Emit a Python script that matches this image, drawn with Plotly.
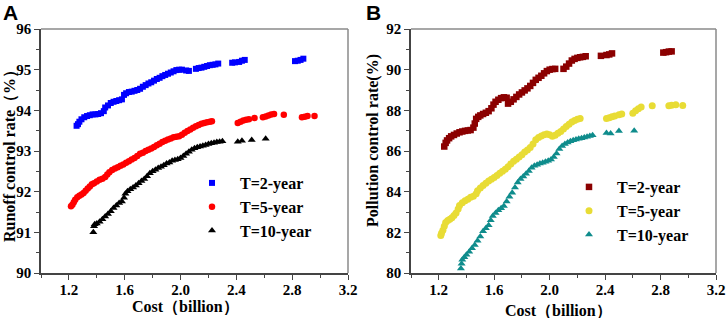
import plotly.graph_objects as go

# ---------------- Panel A: runoff control rate ----------------
a2_x = [1.255,1.265,1.275,1.29,1.31,1.33,1.35,1.37,1.39,1.41,1.43,1.45,1.46,1.48,1.50,1.52,1.54,1.56,1.58,1.595,
        1.61,1.63,1.65,1.67,1.69,1.71,1.73,1.75,1.77,1.79,1.81,1.83,1.85,1.87,1.89,1.91,1.93,1.95,1.97,1.99,
        2.01,2.04,2.06,2.11,2.13,2.15,2.17,2.19,2.21,2.23,2.25,2.27,2.37,2.39,2.42,2.44,2.46,2.82,2.84,2.86,2.88]
a2_y = [93.62,93.66,93.72,93.78,93.83,93.86,93.88,93.90,93.90,93.91,93.93,93.98,94.07,94.12,94.18,94.21,94.23,94.25,94.27,94.38,
        94.42,94.45,94.46,94.48,94.50,94.53,94.58,94.62,94.66,94.69,94.73,94.77,94.80,94.84,94.87,94.90,94.93,94.96,94.99,95.00,
        95.00,94.98,94.97,95.02,95.04,95.05,95.07,95.09,95.11,95.12,95.13,95.15,95.17,95.18,95.19,95.22,95.24,95.21,95.22,95.24,95.27]

a5_x = [1.215,1.225,1.235,1.245,1.26,1.275,1.29,1.305,1.32,1.335,1.35,1.365,1.38,1.40,1.42,1.44,1.46,1.475,1.49,1.51,
        1.53,1.55,1.57,1.59,1.61,1.63,1.65,1.67,1.69,1.71,1.73,1.75,1.77,1.79,1.81,1.83,1.85,1.87,1.89,1.91,
        1.93,1.95,1.97,1.99,2.01,2.03,2.05,2.07,2.09,2.11,2.13,2.15,2.17,2.19,2.21,2.225,
        2.41,2.43,2.45,2.47,2.49,2.53,2.59,2.61,2.63,2.65,2.67,2.74,2.87,2.89,2.91,2.96]
a5_y = [91.64,91.68,91.74,91.80,91.86,91.90,91.93,91.97,92.02,92.08,92.13,92.18,92.21,92.25,92.29,92.32,92.36,92.42,92.48,92.53,
        92.57,92.60,92.64,92.67,92.71,92.75,92.79,92.83,92.88,92.93,92.96,93.00,93.03,93.06,93.10,93.14,93.18,93.22,93.25,93.28,
        93.31,93.34,93.35,93.36,93.40,93.45,93.49,93.53,93.57,93.61,93.64,93.67,93.69,93.71,93.72,93.73,
        93.69,93.72,93.75,93.77,93.78,93.81,93.83,93.85,93.87,93.90,93.91,93.89,93.83,93.84,93.86,93.86]

a10_x = [1.375,1.38,1.385,1.40,1.42,1.44,1.46,1.48,1.50,1.52,1.54,1.56,1.58,1.595,1.605,1.62,1.64,1.66,1.68,1.70,
         1.72,1.74,1.76,1.78,1.80,1.82,1.84,1.86,1.88,1.90,1.92,1.94,1.96,1.98,2.00,2.02,2.04,2.06,2.08,2.10,
         2.12,2.14,2.16,2.18,2.20,2.22,2.24,2.26,2.28,2.30,2.41,2.44,2.51,2.61]
a10_y = [91.00,91.15,91.20,91.22,91.26,91.32,91.39,91.45,91.52,91.60,91.66,91.72,91.76,91.85,91.95,92.01,92.06,92.10,92.15,92.21,
         92.26,92.31,92.38,92.45,92.50,92.54,92.58,92.61,92.65,92.69,92.72,92.76,92.78,92.80,92.83,92.88,92.93,92.98,93.03,93.07,
         93.09,93.11,93.13,93.15,93.17,93.19,93.20,93.22,93.23,93.24,93.23,93.25,93.27,93.30]

# ---------------- Panel B: pollution control rate ----------------
b2_x = [1.24,1.25,1.26,1.275,1.29,1.31,1.33,1.35,1.37,1.39,1.41,1.43,1.45,1.46,1.47,1.485,1.50,1.52,1.54,1.56,
        1.58,1.595,1.61,1.63,1.65,1.67,1.69,1.70,1.72,1.74,1.76,1.78,1.80,1.82,1.84,1.86,1.88,1.90,1.92,1.94,
        1.96,1.98,2.00,2.02,2.04,2.10,2.12,2.14,2.16,2.18,2.20,2.22,2.24,2.26,2.37,2.41,2.43,2.45,2.82,2.84,2.86,2.88]
b2_y = [86.22,86.40,86.52,86.63,86.72,86.79,86.86,86.92,86.96,86.99,87.01,87.03,87.15,87.35,87.58,87.68,87.75,87.82,87.88,87.96,
        88.10,88.28,88.42,88.52,88.60,88.64,88.62,88.33,88.42,88.54,88.66,88.78,88.88,88.98,89.08,89.20,89.35,89.50,89.60,89.70,
        89.82,89.93,90.00,90.03,90.04,90.04,90.15,90.30,90.45,90.53,90.58,90.61,90.63,90.66,90.68,90.72,90.75,90.80,90.84,90.86,90.89,90.90]

b5_x = [1.215,1.22,1.23,1.24,1.25,1.265,1.28,1.295,1.31,1.325,1.34,1.35,1.37,1.39,1.41,1.43,1.45,1.47,1.48,1.50,
        1.52,1.54,1.56,1.58,1.60,1.62,1.64,1.66,1.68,1.70,1.72,1.74,1.76,1.78,1.80,1.82,1.84,1.86,1.88,1.90,
        1.92,1.94,1.96,1.98,2.00,2.02,2.04,2.06,2.08,2.10,2.12,2.14,2.16,2.18,2.20,2.22,
        2.41,2.43,2.45,2.47,2.50,2.52,2.60,2.62,2.64,2.66,2.74,2.86,2.88,2.91,2.96]
b5_y = [81.85,81.95,82.10,82.30,82.48,82.58,82.64,82.72,82.83,82.95,83.15,83.32,83.45,83.55,83.63,83.72,83.78,83.90,84.05,84.18,
        84.30,84.42,84.52,84.61,84.70,84.80,84.90,85.00,85.10,85.22,85.36,85.50,85.60,85.70,85.82,85.95,86.05,86.17,86.35,86.55,
        86.66,86.74,86.80,86.83,86.80,86.72,86.78,86.87,86.96,87.08,87.20,87.32,87.43,87.50,87.56,87.60,
        87.60,87.64,87.68,87.72,87.78,87.82,87.86,87.98,88.08,88.17,88.22,88.22,88.25,88.28,88.24]

b10_x = [1.36,1.365,1.37,1.385,1.40,1.42,1.44,1.46,1.48,1.50,1.52,1.54,1.56,1.575,1.59,1.61,1.63,1.65,1.67,1.69,
         1.71,1.73,1.75,1.77,1.79,1.81,1.83,1.85,1.87,1.89,1.91,1.93,1.95,1.97,1.99,2.01,2.03,2.05,2.07,2.09,
         2.11,2.13,2.15,2.17,2.19,2.21,2.23,2.25,2.27,2.29,2.31,2.41,2.44,2.50,2.61]
b10_y = [80.22,80.45,80.65,80.78,80.90,81.05,81.22,81.38,81.58,81.80,82.05,82.20,82.35,82.60,82.80,82.95,83.08,83.18,83.30,83.52,
         83.75,83.95,84.20,84.45,84.62,84.75,84.88,85.02,85.18,85.28,85.32,85.38,85.42,85.47,85.52,85.58,85.70,85.88,86.10,86.25,
         86.34,86.42,86.48,86.53,86.57,86.60,86.63,86.66,86.70,86.74,86.78,86.88,86.86,86.98,87.00]

names = ["T=2-year", "T=5-year", "T=10-year"]
x_ticks = [1.2, 1.6, 2.0, 2.4, 2.8, 3.2]

SERIF = "Liberation Serif, Times New Roman, serif"
fig = go.Figure()
PAD = "\u00a0\u00a0"

def add(x, y, name, color, symbol, size, xa, ya, legend):
    fig.add_trace(go.Scatter(x=x, y=y, mode="markers", name=PAD + name,
                             marker=dict(color=color, symbol=symbol, size=size, line=dict(width=0)),
                             xaxis=xa, yaxis=ya, legend=legend))

add(a2_x, a2_y, names[0], "#0000FF", "square", 6, "x", "y", "legend")
add(a5_x, a5_y, names[1], "#FF0000", "circle", 6.5, "x", "y", "legend")
add(a10_x, a10_y, names[2], "#000000", "triangle-up", 7, "x", "y", "legend")
add(b2_x, b2_y, names[0], "#8B0000", "square", 6.5, "x2", "y2", "legend2")
add(b5_x, b5_y, names[1], "#E8DC35", "circle", 7, "x2", "y2", "legend2")
add(b10_x, b10_y, names[2], "#0F8C8C", "triangle-up", 7, "x2", "y2", "legend2")

tickfont = dict(family=SERIF, size=15, color="black", weight="bold")
titlefont = dict(family=SERIF, size=16, color="black", weight="bold")

def xaxis(domain, anchor):
    return dict(domain=domain, anchor=anchor, range=[1.0, 3.2], tickvals=x_ticks, automargin=False,
                ticktext=[f"{v:.1f}" for v in x_ticks], ticklabelstandoff=-3,
                showgrid=False, zeroline=False, showline=True, linecolor="#444", linewidth=1.5,
                ticks="outside", ticklen=5, tickwidth=1.2, tickcolor="#444",
                minor=dict(tickvals=[1.0, 1.4, 1.8, 2.2, 2.6, 3.0], ticks="outside", ticklen=3,
                           tickcolor="#444", tickwidth=1.2),
                tickfont=tickfont)

def yaxis(domain, anchor, rng, dtick, mdtick, standoff):
    return dict(domain=domain, anchor=anchor, range=rng, dtick=dtick, tick0=rng[0], automargin=False,
                ticklabelstandoff=standoff,
                showgrid=False, zeroline=False, showline=True, linecolor="#444", linewidth=1.5,
                ticks="outside", ticklen=5, tickwidth=1.2, tickcolor="#444",
                minor=dict(dtick=mdtick, ticks="outside", ticklen=3, tickcolor="#444", tickwidth=1.2),
                tickfont=tickfont)

ydom = [45 / 318, 1 - 29 / 318]
legfont = dict(family=SERIF, size=16, color="black", weight="bold")

def ann(text, xpx, ypx, angle=0, font=titlefont):
    return dict(text=text, x=xpx / 726, y=1 - ypx / 318, xref="paper", yref="paper",
                xanchor="center", yanchor="middle", textangle=angle, showarrow=False, font=font)

panel_font = dict(family="Liberation Sans, Arial, sans-serif", size=21, color="black", weight="bold")

fig.update_layout(
    width=726, height=318, margin=dict(l=0, r=0, t=0, b=0, pad=0, autoexpand=False),
    paper_bgcolor="white", plot_bgcolor="white", showlegend=True,
    xaxis=xaxis([41 / 726, 348 / 726], "y"),
    yaxis=yaxis(ydom, "x", [90, 96], 1, 0.5, 0),
    xaxis2=xaxis([411 / 726, 716 / 726], "y2"),
    yaxis2=yaxis(ydom, "x2", [80, 92], 2, 1, 0),
    legend=dict(x=192 / 726, y=1 - 166 / 318, xanchor="left", yanchor="top",
                bgcolor="rgba(0,0,0,0)", font=legfont, itemsizing="trace", tracegroupgap=0),
    legend2=dict(x=569 / 726, y=1 - 170 / 318, xanchor="left", yanchor="top",
                 bgcolor="rgba(0,0,0,0)", font=legfont, itemsizing="trace", tracegroupgap=0),
    annotations=[
        ann("A", 10, 13, font=panel_font),
        ann("B", 373, 13, font=panel_font),
        ann("Cost（billion）", 186, 307),
        ann("Cost（billion）", 558, 311),
        ann("Runoff control rate（%）", 10, 152, angle=-90),
        ann("Pollution control rate(%)", 373, 141, angle=-90),
    ],
    shapes=[
        dict(type="line", xref="x domain", yref="y domain", x0=0, x1=1, y0=1, y1=1, line=dict(color="#8a8a8a", width=1.5)),
        dict(type="line", xref="x domain", yref="y domain", x0=1, x1=1, y0=0, y1=1, line=dict(color="#8a8a8a", width=1.5)),
        dict(type="line", xref="x2 domain", yref="y2 domain", x0=0, x1=1, y0=1, y1=1, line=dict(color="#8a8a8a", width=1.5)),
        dict(type="line", xref="x2 domain", yref="y2 domain", x0=1, x1=1, y0=0, y1=1, line=dict(color="#8a8a8a", width=1.5)),
    ],
)

fig.write_html("out.html", config={"displayModeBar": False},
               post_script="document.body.style.margin='0px';")
